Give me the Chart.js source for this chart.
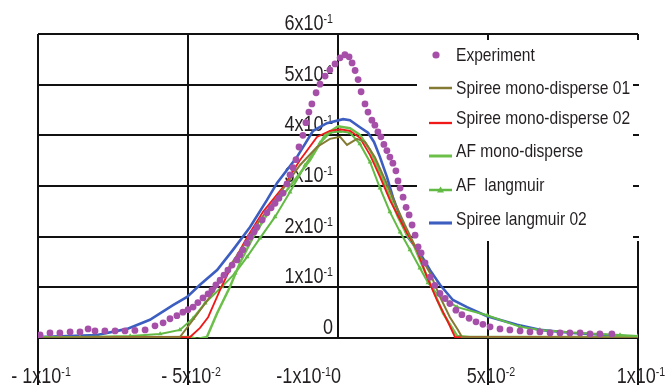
<!DOCTYPE html>
<html><head><meta charset="utf-8">
<script src="https://cdn.jsdelivr.net/npm/chart.js@4.4.1/dist/chart.umd.min.js"></script>
<style>html,body{margin:0;padding:0;background:#fff;overflow:hidden}#wrap{width:668px;height:385px;position:relative}</style>
</head><body><div id="wrap"><canvas id="c" width="668" height="385"></canvas></div>
<script>
// ---------------- DATA ----------------
const seriesNames = ['Experiment', 'Spiree mono-disperse 01', 'Spiree mono-disperse 02', 'AF mono-disperse', 'AF  langmuir', 'Spiree langmuir 02'];

const xTickValues = [-0.1, -0.05, 0, 0.05, 0.1];
const xTickLabels = ['- 1x10{-1}', '- 5x10{-2}', '-1x10{-1}0', '5x10{-2}', '1x10{-1}'];
const yTickValues = [0, 0.1, 0.2, 0.3, 0.4, 0.5, 0.6];
const yTickLabels = ['0', '1x10{-1}', '2x10{-1}', '3x10{-1}', '4x10{-1}', '5x10{-1}', '6x10{-1}'];

const expX = [-0.0993,-0.0960,-0.0927,-0.0893,-0.0860,-0.0833,-0.0810,-0.0777,-0.0743,-0.0710,-0.0677,-0.0643,-0.0610,-0.0583,-0.0560,-0.0537,-0.0517,-0.0500,-0.0483,-0.0467,-0.0450,-0.0433,-0.0420,-0.0407,-0.0393,-0.0380,-0.0367,-0.0353,-0.0337,-0.0327,-0.0317,-0.0303,-0.0293,-0.0280,-0.0270,-0.0253,-0.0237,-0.0223,-0.0210,-0.0197,-0.0183,-0.0170,-0.0160,-0.0150,-0.0140,-0.0130,-0.0117,-0.0107,-0.0097,-0.0087,-0.0073,-0.0060,-0.0043,-0.0027,-0.0010,0.0007,0.0023,0.0037,0.0047,0.0057,0.0067,0.0077,0.0090,0.0100,0.0113,0.0123,0.0133,0.0143,0.0153,0.0163,0.0173,0.0183,0.0193,0.0200,0.0207,0.0217,0.0227,0.0237,0.0247,0.0257,0.0267,0.0277,0.0290,0.0307,0.0323,0.0340,0.0357,0.0373,0.0393,0.0413,0.0437,0.0460,0.0483,0.0507,0.0540,0.0573,0.0607,0.0640,0.0673,0.0707,0.0740,0.0773,0.0807,0.0840,0.0873,0.0913];
const expY = [0.006,0.010,0.010,0.012,0.012,0.018,0.014,0.014,0.014,0.014,0.015,0.016,0.024,0.030,0.038,0.044,0.051,0.056,0.061,0.070,0.079,0.087,0.095,0.105,0.114,0.124,0.134,0.144,0.154,0.164,0.174,0.187,0.199,0.209,0.219,0.233,0.247,0.257,0.266,0.276,0.286,0.304,0.322,0.336,0.352,0.377,0.400,0.425,0.446,0.462,0.484,0.501,0.517,0.529,0.541,0.553,0.559,0.555,0.543,0.528,0.510,0.486,0.462,0.446,0.430,0.420,0.407,0.397,0.382,0.370,0.357,0.345,0.330,0.310,0.296,0.278,0.258,0.243,0.223,0.203,0.180,0.168,0.148,0.120,0.104,0.088,0.078,0.068,0.055,0.046,0.039,0.032,0.027,0.022,0.018,0.016,0.014,0.012,0.012,0.010,0.010,0.010,0.010,0.008,0.008,0.008];

const spm1X = [-0.1,-0.0527,-0.0483,-0.0427,-0.037,-0.0317,-0.026,-0.0203,-0.0127,-0.007,-0.0027,0.0007,0.003,0.0063,0.009,0.0123,0.0157,0.019,0.0223,0.0263,0.0307,0.034,0.0373,0.04,0.0413,0.1];
const spm1Y = [0,0.002,0.036,0.081,0.134,0.180,0.233,0.278,0.341,0.377,0.393,0.397,0.381,0.393,0.387,0.357,0.312,0.266,0.223,0.174,0.128,0.081,0.041,0.016,0.002,0];

const spm2X = [-0.1,-0.0493,-0.046,-0.0433,-0.0393,-0.035,-0.0303,-0.025,-0.0183,-0.0127,-0.007,-0.0027,0.0007,0.004,0.0073,0.0107,0.014,0.0173,0.0207,0.023,0.0263,0.0297,0.033,0.0363,0.039,0.1];
const spm2Y = [0,0.002,0.020,0.041,0.095,0.148,0.199,0.249,0.298,0.351,0.397,0.409,0.412,0.409,0.395,0.361,0.318,0.272,0.233,0.207,0.174,0.120,0.075,0.036,0.002,0];

const afmX = [-0.1,-0.0493,-0.047,-0.0437,-0.0403,-0.036,-0.0327,-0.0283,-0.0227,-0.017,-0.0093,-0.0043,0.0,0.004,0.0073,0.0107,0.014,0.0173,0.02,0.023,0.025,0.0283,0.0317,0.035,0.0397,0.044,0.1];
const afmY = [0,0.002,-0.002,0.002,0.049,0.101,0.148,0.199,0.253,0.292,0.351,0.401,0.418,0.414,0.401,0.371,0.326,0.278,0.239,0.203,0.187,0.140,0.095,0.049,0.004,0.002,0.002];

const aflX = [-0.1,-0.086,-0.0693,-0.0593,-0.0527,-0.0483,-0.0443,-0.0387,-0.0343,-0.0303,-0.026,-0.021,-0.016,-0.011,-0.006,-0.0027,0.0007,0.004,0.0073,0.0107,0.014,0.0173,0.0207,0.024,0.0273,0.03,0.0333,0.0373,0.0397,0.0497,0.0607,0.0673,0.0807,0.094,0.1];
const aflY = [0.002,0.002,0.004,0.008,0.016,0.039,0.069,0.101,0.128,0.160,0.197,0.239,0.288,0.341,0.385,0.405,0.408,0.405,0.383,0.347,0.296,0.249,0.209,0.174,0.138,0.109,0.085,0.070,0.061,0.045,0.022,0.016,0.010,0.006,0.004];

const splX = [-0.1,-0.0803,-0.0703,-0.0627,-0.055,-0.0503,-0.046,-0.0403,-0.035,-0.0293,-0.0237,-0.0203,-0.0137,-0.0083,-0.0037,0.0017,0.004,0.0073,0.01,0.012,0.014,0.0163,0.0183,0.0207,0.0233,0.0273,0.0307,0.034,0.0383,0.043,0.0497,0.0597,0.0673,0.0783,0.0897,0.1];
const splY = [0.002,0.006,0.018,0.036,0.065,0.081,0.105,0.134,0.174,0.219,0.272,0.306,0.357,0.409,0.424,0.432,0.430,0.416,0.405,0.387,0.357,0.318,0.278,0.239,0.199,0.168,0.134,0.105,0.075,0.061,0.043,0.026,0.016,0.010,0.006,0.002];

// ---------------- STYLE ----------------
const FONT = '"Liberation Sans", Arial, sans-serif';
const NARROW = 0.82;
const GRID = '#111';
const TEXT = '#231f20';
const COLORS = ['#A64FA8', '#857A34', '#F01818', '#6CC04A', '#62BA45', '#3C5EC0'];
const xLabelAnchor = ['center', 'center', 'right', 'center', 'center'];
const L = { boxLeft: 417, boxTop: 40, boxRight: 641, boxBottom: 241, s0: 429, s1: 452, textX: 456,
            baselines: [61, 94, 124, 157, 191, 225], sampleDy: [-6, -6, -1, -1, -1, -2] };

function zip(xs, ys) { return xs.map((x, i) => ({ x: x, y: ys[i] })); }
function measureN(ctx, t) { return ctx.measureText(t).width * NARROW; }
function fillN(ctx, t, x, y) {
  ctx.save(); ctx.translate(x, y); ctx.scale(NARROW, 1); ctx.fillText(t, 0, 0); ctx.restore();
}
function parseRich(s) {
  const parts = []; const re = /([^{}]+)|\{([^}]*)\}/g; let m;
  while ((m = re.exec(s))) { if (m[1] !== undefined) parts.push({ t: m[1], sup: false }); else parts.push({ t: m[2], sup: true }); }
  return parts;
}
function drawRich(ctx, s, x, y, align, base, sup) {
  const parts = parseRich(s); let w = 0;
  ctx.textAlign = 'left'; ctx.textBaseline = 'alphabetic';
  parts.forEach(p => { ctx.font = (p.sup ? sup : base) + 'px ' + FONT; p.w = measureN(ctx, p.t); w += p.w; });
  let sx = align === 'right' ? x - w : (align === 'center' ? x - w / 2 : x);
  parts.forEach(p => { ctx.font = (p.sup ? sup : base) + 'px ' + FONT; fillN(ctx, p.t, sx, p.sup ? y - 7 : y); sx += p.w; });
}

const decor = {
  id: 'decor',
  beforeDatasetsDraw(chart) {
    const ctx = chart.ctx, xs = chart.scales.x, ys = chart.scales.y;
    ctx.save();
    // legend box
    ctx.fillStyle = '#fff';
    ctx.fillRect(L.boxLeft, L.boxTop, L.boxRight - L.boxLeft, L.boxBottom - L.boxTop);
    ctx.strokeStyle = GRID; ctx.lineWidth = 2;
    yTickValues.forEach(v => {
      const py = Math.round(ys.getPixelForValue(v));
      if (py > L.boxTop && py < L.boxBottom) { ctx.beginPath(); ctx.moveTo(xs.right - 5, py); ctx.lineTo(xs.right + 1, py); ctx.stroke(); }
    });
    // y tick labels (inside, next to x=0)
    ctx.fillStyle = TEXT;
    const x0 = xs.getPixelForValue(0);
    yTickValues.forEach((v, i) => drawRich(ctx, yTickLabels[i], x0 - 5, ys.getPixelForValue(v) - 4, 'right', 22, 13));
    // x tick labels
    xTickValues.forEach((v, i) => {
      const px = xs.getPixelForValue(v);
      drawRich(ctx, xTickLabels[i], px + 3, chart.height - 2, xLabelAnchor[i], 22, 13);
    });
    // legend items
    chart.data.datasets.forEach((ds, i) => {
      const by = L.baselines[i], sy = by + L.sampleDy[i];
      if (i === 0) {
        ctx.fillStyle = ds.pointBackgroundColor;
        ctx.beginPath(); ctx.arc(436, sy, 3.6, 0, Math.PI * 2); ctx.fill();
      } else {
        ctx.strokeStyle = ds.borderColor; ctx.lineWidth = ds.borderWidth + 0.5;
        ctx.beginPath(); ctx.moveTo(L.s0, sy); ctx.lineTo(L.s1, sy); ctx.stroke();
        if (ds.pointStyle === 'triangle') {
          ctx.fillStyle = ds.pointBackgroundColor;
          const cx = (L.s0 + L.s1) / 2, r = 3.5;
          ctx.beginPath(); ctx.moveTo(cx, sy - r); ctx.lineTo(cx + r, sy + r * 0.7); ctx.lineTo(cx - r, sy + r * 0.7); ctx.closePath(); ctx.fill();
        }
      }
      ctx.fillStyle = TEXT; ctx.font = '19px ' + FONT; ctx.textAlign = 'left'; ctx.textBaseline = 'alphabetic';
      fillN(ctx, ds.label, L.textX, by);
    });
    ctx.restore();
  }
};

const lineDs = (label, xs, ys, color, width, extra) => Object.assign({
  label: label, data: zip(xs, ys), showLine: true, borderColor: color, backgroundColor: color,
  borderWidth: width, pointRadius: 0, tension: 0, fill: false
}, extra || {});

new Chart(document.getElementById('c'), {
  type: 'scatter',
  data: {
    datasets: [
      { label: seriesNames[0], data: zip(expX, expY), showLine: false, pointRadius: 3.4, pointBackgroundColor: COLORS[0], backgroundColor: COLORS[0], pointBorderWidth: 0, borderWidth: 0 },
      lineDs(seriesNames[1], spm1X, spm1Y, COLORS[1], 2),
      lineDs(seriesNames[2], spm2X, spm2Y, COLORS[2], 1.8),
      lineDs(seriesNames[3], afmX, afmY, COLORS[3], 2.5),
      lineDs(seriesNames[4], aflX, aflY, COLORS[4], 2, { pointRadius: 2.8, pointStyle: 'triangle', pointBackgroundColor: COLORS[4], pointBorderWidth: 0 }),
      lineDs(seriesNames[5], splX, splY, COLORS[5], 2.6)
    ]
  },
  options: {
    responsive: false, animation: false, devicePixelRatio: 1,
    layout: { padding: { left: 38, top: 34, right: 30, bottom: 0 } },
    plugins: { legend: { display: false }, tooltip: { enabled: false } },
    scales: {
      x: {
        type: 'linear', min: -0.1, max: 0.1,
        afterBuildTicks: s => { s.ticks = xTickValues.map(v => ({ value: v })); },
        ticks: { display: false },
        border: { display: false },
        grid: { color: GRID, lineWidth: 2, drawTicks: true, tickLength: 47,
                tickColor: c => (c.tick && Math.abs(c.tick.value) < 1e-9) ? 'rgba(0,0,0,0)' : GRID }
      },
      y: {
        type: 'linear', min: 0, max: 0.6,
        afterBuildTicks: s => { s.ticks = yTickValues.map(v => ({ value: v })); },
        ticks: { display: false },
        border: { display: false },
        grid: { color: GRID, lineWidth: 2, drawTicks: false }
      }
    }
  },
  plugins: [decor]
});
</script>
</body></html>
